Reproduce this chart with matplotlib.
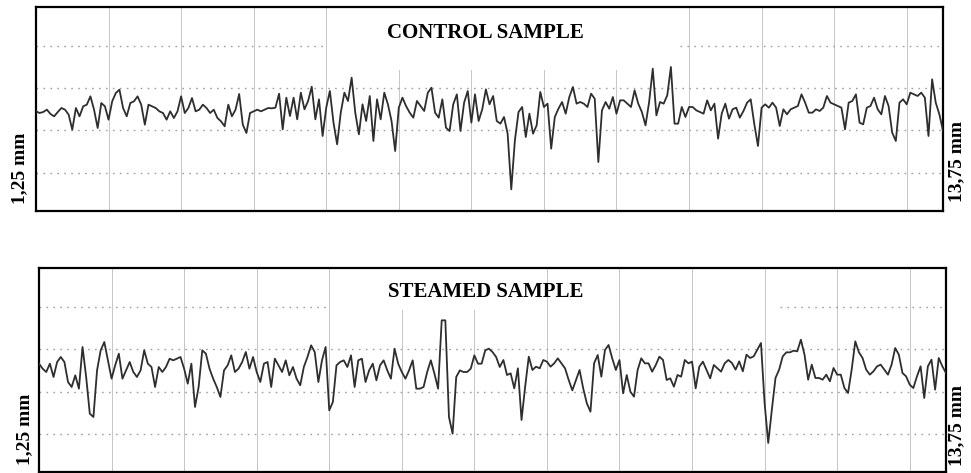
import numpy as np
import matplotlib.pyplot as plt
from matplotlib.patches import Rectangle

# profile heights, one reading every 0.05 mm from 1,25 to 13,75 mm
# (arbitrary units, one grid division = 127)
control = [
    -6, -11, -8, -1, -14, -21, -8, 4, -1, -16, -61, 4, -21, 9, 14, 39, -1, -56, 19, 9,
    -31, 24, 49, 59, 4, -21, 19, 24, 39, 14, -46, 14, 9, 4, -6, -11, -31, -6, -26, -6,
    39, -11, 4, 34, -6, -1, 14, 4, -11, -1, -26, -36, -51, 14, -21, -1, 46, -46, -71, -11,
    -6, -1, -6, -1, 4,
    3, 5, 47, -60, 35, -20, 35, -30, 50, 0, 25, 68, -30, 30, -80, 5, 55, -40, -105, -10,
    50, 25, 95, -10, -75, 15, -35, 40, -95, 30, -30, 50, 15, -35, -125, 5, 35, 10, -10, -25,
    25, 10, -5, 50, 65, -10, -25, 30, -55, -65, 15, 45, -65, 20, 55, -40, 45, -35, 0, 60,
    15, 40, -35,
    -43, -23, -73, -240, -93, -8, 7, -83, -13, -73, -48, 52, 7, 17, -118, -23, 2, 22, -13, 37,
    67, 17, 22, 17, 7, 47, 32, -158, -3, 22, 2, 37, -13, 27, 27, 17, 7, 57, 17, -8,
    -48, 22, 122, -18, 22, 17, 42, 127, -43, -43, 7, -23, 7, 7, -3, -8, -13, 27, -3, 17,
    -88, -13, 17, -28,
    0, 5, -25, -5, 20, 30, -45, -110, 5, 15, 5, 20, 5, -50, 0, -15, 0, 5, 10, 45,
    20, -10, -10, 0, -5, 5, 40, 20, 15, 10, 5, -60, 20, 25, 45, -40, -45, 5, 10, 35,
    0, -15, 40, 10, -70, -95, 20, 30, 15, 50, 45, 40, 50, 35, -80, 90, 20, -15, -65,
]

steamed = [
    20, 5, -5, 20, -20, 25, 40, 25, -35, -50, -15, -55, 70, -20, -130, -140, 0, 60, 85, 30,
    -25, 15, 50, -25, 0, 25, -5, -20, 0, 60, 20, 10, -50, 10, -5, 10, 35, 30, 35, 40,
    5, -40, 20, -110, -50, 60, 50, 5, -25, -50, -80, 0, 15, 45, -5, 5, 25, 55, 5, 40,
    -5, -35, 20, 25,
    -50, 35, 15, -5, 30, -15, 10, -25, -45, 10, 40, 75, 55, -35, 30, 70, -120, -95, 15, 25,
    30, 10, 45, -50, 30, 35, -35, 0, 20, -30, 15, 30, 0, -25, 65, 20, -5, -25, 0, 30,
    -55, -55, -50, -5, 30, -10, -55, 150, 150, -140, -190, -20, 0, -5, -5, 5, 45, 20, 20, 60,
    65, 55, 40, 10,
    31, -14, -9, -54, 6, -149, -49, 41, 1, 11, 6, 31, 26, 11, 21, 36, 21, 6, -29, -60,
    -29, 1, -54, -99, -124, 21, 46, -19, 61, 76, 36, 1, 31, -69, -14, -64, -79, 1, 36, 21,
    21, -4, 16, 41, 31, -29, -24, -49, -14, -19, 31, 21, 26, -54, 11, 26, 1, -24, 16, 6,
    -4, 21, 31,
    22, 2, 27, -3, 47, 37, 42, 62, 82, -98, -218, -118, -23, 2, 42, 54, 54, 59, 57, 92,
    47, -28, 17, -23, -23, -28, -13, -33, 7, -13, -13, -53, -68, 2, 87, 54, 37, 2, -13, -3,
    12, 17, 2, -13, 17, 67, 47, -8, -18, -43, -53, -18, 12, -83, 12, 32, -58, 37, 12, -8,
]

titles = ["CONTROL SAMPLE", "STEAMED SAMPLE"]
start_label = "1,25 mm"
end_label = "13,75 mm"

plt.rcParams['font.family'] = ['Liberation Serif', 'DejaVu Serif']

fig = plt.figure(figsize=(9.71, 4.73), dpi=100)


def profile_panel(rect, heights, title, title_pos, gap, cover):
    ax = fig.add_axes(rect)
    x = np.linspace(1.25, 13.75, len(heights))
    ax.set_xlim(1.25, 13.75)
    ax.set_ylim(-305, 307)

    for gx in np.arange(2.25, 13.5, 1.0):
        ax.axvline(gx, color='#c6c6c6', lw=0.7, zorder=1)
    for gy in [-190, -63.5, 63.5]:
        ax.axhline(gy, color='#a0a0a0', lw=1.0, ls=(0, (1.2, 3.8)), zorder=1)
    # the top dotted line is broken where the title sits
    ax.hlines([190, 190], [1.25, gap[1]], [gap[0], 13.75],
              color='#a0a0a0', lw=1.0, ls=(0, (1.2, 3.8)), zorder=1)
    ax.add_patch(Rectangle((cover[0], cover[2]), cover[1] - cover[0], 400,
                           facecolor='white', edgecolor='none', zorder=2))

    ax.plot(x, heights, color='#2e2e2e', lw=1.3, zorder=3)
    ax.text(title_pos[0], title_pos[1], title, transform=ax.transAxes,
            ha='center', va='center', fontsize=15, fontweight='bold', zorder=4)

    ax.set_xticks([])
    ax.set_yticks([])
    for s in ax.spines.values():
        s.set_linewidth(1.6)
    return ax


profile_panel([36 / 971, 1 - 211 / 473, 907 / 971, 204 / 473], control,
              titles[0], (0.4956, 0.8725), (5.26, 10.13), (5.3, 10.1, 118))
profile_panel([39 / 971, 1 - 472 / 473, 907 / 971, 204 / 473], steamed,
              titles[1], (0.493, 0.88), (5.25, 11.46), (5.4, 8.15, 180))

for px, py, label in [(20, 168, start_label), (957, 162, end_label),
                      (25, 429, start_label), (957, 425, end_label)]:
    fig.text(px / 971, 1 - py / 473, label, rotation=90, ha='center', va='center',
             fontsize=14, fontweight='bold')

fig.savefig('out.png', dpi=100)
